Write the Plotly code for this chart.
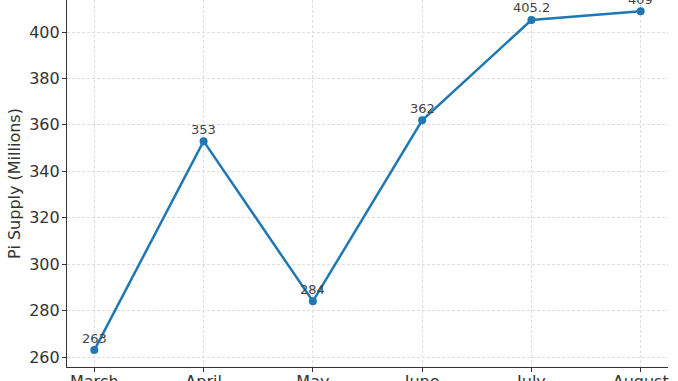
import plotly.graph_objects as go

months = ["March", "April", "May", "June", "July", "August"]
supply = [263, 353, 284, 362, 405.2, 409]
labels = ["263", "353", "284", "362", "405.2", "409"]
y_ticks = [260, 280, 300, 320, 340, 360, 380, 400]

fig = go.Figure()
fig.add_trace(go.Scatter(
    x=list(range(len(months))), y=supply, mode="lines+markers",
    line=dict(color="#1f77b4", width=2.5),
    marker=dict(color="#1f77b4", size=8),
    hoverinfo="skip",
))
for i, (v, t) in enumerate(zip(supply, labels)):
    fig.add_annotation(x=i, y=v, text=t, showarrow=False, yshift=12,
                       font=dict(family="DejaVu Sans", size=13, color="#444444"))

axis_common = dict(
    showline=True, linecolor="#333333", linewidth=1.2,
    ticks="outside", ticklen=4, tickcolor="#333333", tickwidth=1,
    showgrid=True, gridcolor="#dddddd", griddash="3px,2px", gridwidth=0.8,
    zeroline=False, automargin=False,
    tickfont=dict(family="DejaVu Sans", size=16, color="#333333"),
)
fig.update_xaxes(range=[-0.25, 5.25], tickvals=list(range(len(months))),
                 ticktext=months, ticklabelstandoff=-4, **axis_common)
fig.update_yaxes(range=[255.7, 413.8], tickvals=y_ticks, ticklabelstandoff=-1,
                 title=dict(text="Pi Supply (Millions)", standoff=4,
                            font=dict(family="DejaVu Sans", size=16, color="#333333")),
                 **axis_common)
fig.update_layout(
    width=678, height=381,
    margin=dict(l=67, r=10, t=0, b=14),
    plot_bgcolor="white", paper_bgcolor="white",
    showlegend=False,
)
fig.write_html("out.html")
